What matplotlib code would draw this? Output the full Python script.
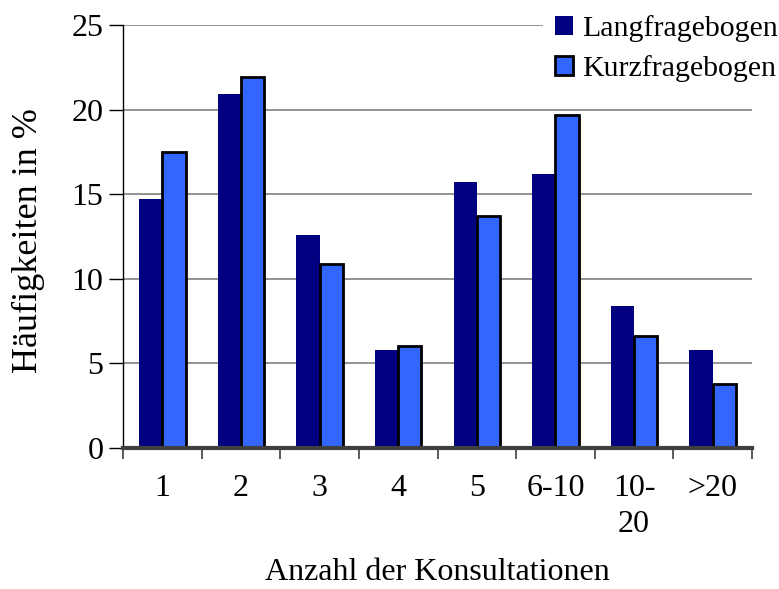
import numpy as np
import matplotlib.pyplot as plt

plt.rcParams['font.family'] = ['Liberation Serif', 'DejaVu Serif']

categories = ['1', '2', '3', '4', '5', '6-10', '10-\n20', '>20']
lang = [14.7, 20.9, 12.6, 5.8, 15.7, 16.2, 8.4, 5.8]
kurz = [17.5, 21.9, 10.9, 6.0, 13.7, 19.7, 6.6, 3.8]

W, H = 779, 589
fig = plt.figure(figsize=(W / 100, H / 100), dpi=100)
ax = fig.add_axes([123 / W, 1 - 448 / H, (752 - 123) / W, (448 - 25) / H])

x = np.arange(len(categories))
bw = 0.295
ax.bar(x - bw / 2, lang, bw, color='#000080', label='Langfragebogen', zorder=3)
ax.bar(x + bw / 2, kurz, bw, color='#3366FF', edgecolor='black', linewidth=2,
       label='Kurzfragebogen', zorder=3)

ax.set_xlim(-0.5, len(categories) - 0.5)
ax.set_ylim(0, 25)
ax.set_yticks([0, 5, 10, 15, 20, 25])
ax.yaxis.grid(True, color='#808080', linewidth=1.2, zorder=0)

# category ticks sit between the groups, labels in the middle
ax.set_xticks(np.arange(len(categories) + 1) - 0.5)
ax.set_xticklabels([])
ax.set_xticks(x, minor=True)
ax.set_xticklabels(categories, minor=True, fontsize=23, linespacing=1.3)
ax.tick_params(axis='x', which='minor', length=0, pad=19)
ax.tick_params(axis='x', which='major', length=8, width=1.2, color='#404040')
ax.tick_params(axis='y', length=10, width=1, labelsize=23, pad=4)

for s in ['top', 'right']:
    ax.spines[s].set_visible(False)
ax.spines['left'].set_linewidth(1)
ax.spines['bottom'].set_linewidth(3)
ax.spines['bottom'].set_color('#404040')
ax.spines['bottom'].set_zorder(4)

fig.text(437 / W, 1 - 580 / H, 'Anzahl der Konsultationen', fontsize=23,
         ha='center', va='baseline')
fig.text(37 / W, 1 - 241 / H, 'Häufigkeiten in %', fontsize=26, rotation=90,
         ha='center', va='baseline', rotation_mode='anchor')

leg = ax.legend(loc='upper left', bbox_to_anchor=(543 / W, 1 - 3 / H),
                bbox_transform=fig.transFigure, fontsize=21.5, frameon=True,
                facecolor='white', edgecolor='none', framealpha=1, fancybox=False,
                handlelength=0.62, handleheight=0.62, handletextpad=0.3,
                labelspacing=0.45, borderpad=0.4, borderaxespad=0)
leg.set_zorder(5)

fig.savefig('out.png', dpi=100)
